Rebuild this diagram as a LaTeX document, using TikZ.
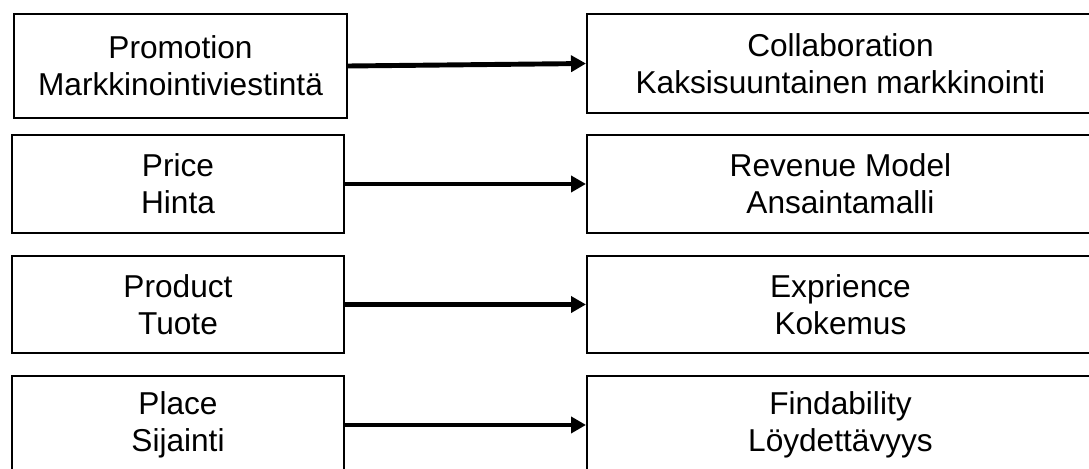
\documentclass[tikz,border=0pt]{standalone}
\usepackage{fontspec}
\setmainfont{Liberation Sans}
\usetikzlibrary{arrows.meta}
\begin{document}
\begin{tikzpicture}[font=\fontsize{18}{21}\selectfont,
    box/.style={draw, line width=1.1pt, align=center, minimum height=1.96cm, inner sep=0pt},
    uusi/.style={box, anchor=west, minimum width=10.14cm},
    muutos/.style={line width=2.8pt, -{Triangle[length=0.3cm,width=0.32cm]}}]
    \useasboundingbox (0,0) rectangle (21.78,-9.38);
    \clip (0,0) rectangle (21.78,-9.38);
    % perinteinen 4P-malli (vasen sarake)
    \node[box, minimum width=6.66cm, minimum height=2.08cm]
      (promotion) at (3.61,-1.32) {Promotion\\Markkinointiviestintä};
    \node[box, minimum width=6.64cm] (price) at (3.56,-3.68) {Price\\Hinta};
    \node[box, minimum width=6.64cm, minimum height=1.94cm] (product) at (3.56,-6.09) {Product\\Tuote};
    \node[box, minimum width=6.64cm] (place) at (3.56,-8.50) {Place\\Sijainti};
    % verkon vastineet (oikea sarake, leikkautuu reunasta)
    \node[uusi, minimum height=1.98cm] (collab) at (11.72,-1.27) {Collaboration\\Kaksisuuntainen markkinointi};
    \node[uusi] (revenue) at (11.72,-3.68) {Revenue Model\\Ansaintamalli};
    \node[uusi, minimum height=1.94cm] (experience) at (11.72,-6.09) {Exprience\\Kokemus};
    \node[uusi] (findability) at (11.72,-8.50) {Findability\\Löydettävyys};
    % vanha käsite korvautuu uudella
    \draw[muutos] (promotion.east) -- (collab.west);
    \draw[muutos] (price) -- (revenue);
    \draw[muutos] (product) -- (experience);
    \draw[muutos] (place) -- (findability);
\end{tikzpicture}
\end{document}
